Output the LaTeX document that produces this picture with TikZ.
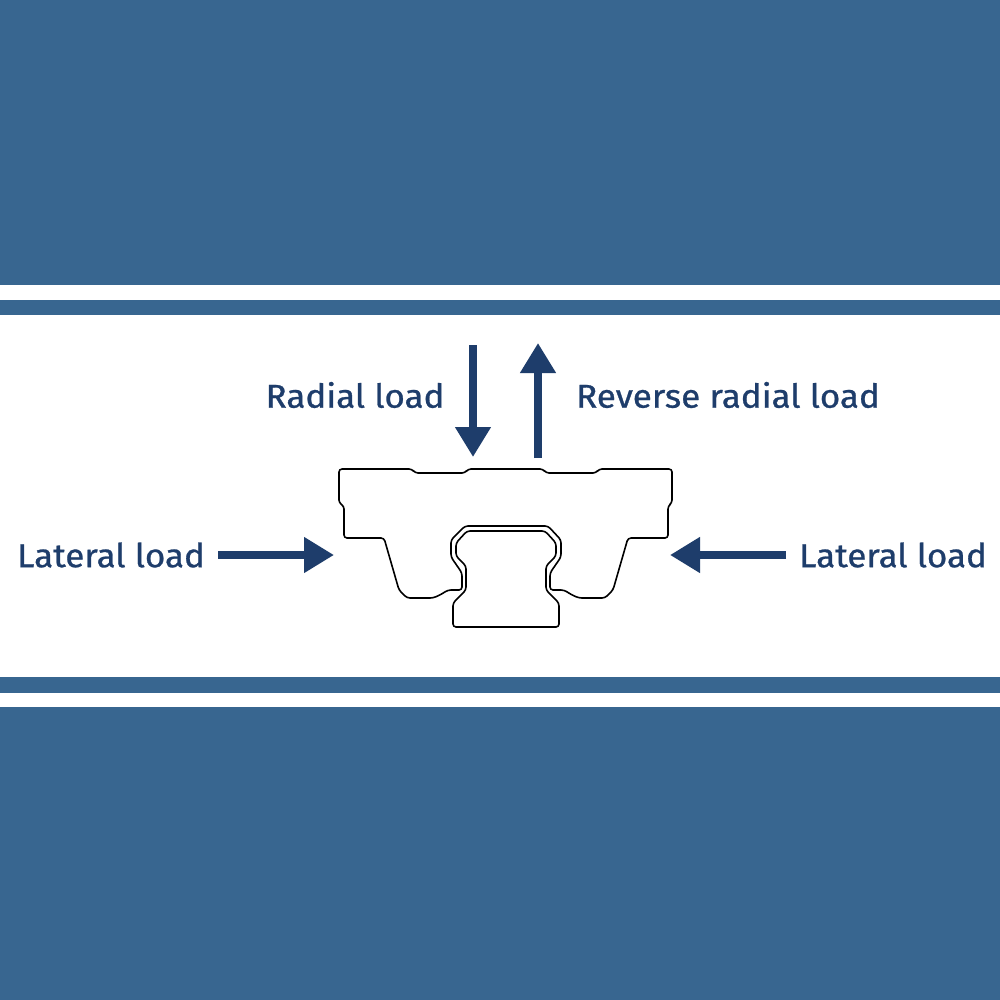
\documentclass[tikz,border=0pt]{standalone}
\usepackage{fontspec}
\setmainfont{Fira Sans}[FakeBold=0.8, FakeStretch=1.06]
\usetikzlibrary{arrows.meta}
\definecolor{band}{HTML}{386690}
\definecolor{ink}{HTML}{1E3D6B}
\tikzset{
  label/.style={text=ink, font=\fontsize{33}{33}\selectfont, inner sep=0pt},
  load/.style={ink, line width=7.5pt, -{Triangle[length=30pt, width=34pt]}},
  profile/.style={black, line width=1.6pt, line join=round, rounded corners=3pt}
}
\begin{document}
\begin{tikzpicture}[x=1pt, y=-1pt]
	\useasboundingbox (0,0) rectangle (1000,1000);
	\fill[band] (0,0) rectangle (1000,1000);
	\fill[white] (0,285) rectangle (1000,300);
	\fill[white] (0,315) rectangle (1000,677);
	\fill[white] (0,693) rectangle (1000,707);
	% texts
	\node[label] (radial) at (355,395) {Radial load};
	\node[label] (reverse) at (728,395) {Reverse radial load};
	\node[label] (latL) at (111,555) {Lateral load};
	\node[label] (latR) at (893,555) {Lateral load};
	% arrow ends
	\coordinate (rA) at (473,345);
	\coordinate (rB) at (473,457);
	\coordinate (vA) at (538,458);
	\coordinate (vB) at (538,343);
	\coordinate (lA) at (218,555);
	\coordinate (lB) at (334,555);
	\coordinate (gA) at (786,555);
	\coordinate (gB) at (670,555);
	\draw[load] (rA) -- (rB);
	\draw[load] (vA) -- (vB);
	\draw[load] (lA) -- (lB);
	\draw[load] (gA) -- (gB);
	% carriage
	\draw[profile] (339,469) -- (412,469) -- (415,473) -- (465,473) -- (468,469)
		-- (543,469) -- (546,473) -- (596,473) -- (599,469) -- (672,469)
		-- (672,503) -- (668,506) -- (668,538) -- (628,538) -- (613,590) -- (605,598)
		-- (579,598) -- (572,595) -- (564,590) -- (550,590) -- (550,573) -- (561,557)
		-- (561,540) -- (548,526) -- (465,526) -- (451,540) -- (451,557) -- (462,573)
		-- (462,590) -- (448,590) -- (440,595) -- (433,598) -- (407,598) -- (399,590)
		-- (384,538) -- (344,538) -- (344,506) -- (339,503) -- cycle;
	% rail
	\draw[profile] (467,531) -- (545,531) -- (556,543) -- (556,556) -- (546,566)
		-- (546,590) -- (559,603) -- (559,627) -- (453,627) -- (453,603) -- (466,590)
		-- (466,566) -- (456,556) -- (456,543) -- cycle;
\end{tikzpicture}
\end{document}
